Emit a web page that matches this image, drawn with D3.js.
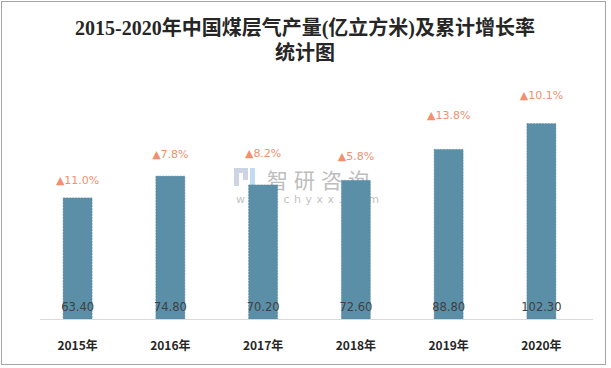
<!DOCTYPE html>
<html><head><meta charset="utf-8">
<script src="https://cdn.jsdelivr.net/npm/d3@7"></script>
<style>body{margin:0;background:#fff}</style>
</head><body>
<svg id="c" width="611" height="368"></svg>
<script>
const categories = ["2015年","2016年","2017年","2018年","2019年","2020年"];
const production = [63.40, 74.80, 70.20, 72.60, 88.80, 102.30];
const growth = ["11.0%","7.8%","8.2%","5.8%","13.8%","10.1%"];
const labelLevel = [72.3, 85.9, 86.9, 85.3, 106.3, 116.8];

const svg = d3.select("#c");
svg.append("rect").attr("x",1.5).attr("y",1.5).attr("width",604).attr("height",363)
  .attr("fill","#fff").attr("stroke","#a6a6a6");

const x = d3.scaleBand().domain(categories).range([26, 593]).paddingInner(0.6875).paddingOuter(0.4);
const y = d3.scaleLinear().domain([0, 120]).range([319, 89.8]);

// title
const t = svg.append("g").attr("font-family","'Liberation Serif','Noto Sans CJK SC',serif")
  .attr("font-size",20).attr("fill","#262626").attr("text-anchor","middle").attr("font-weight","bold");
t.append("text").attr("x",305).attr("y",35).text("2015-2020年中国煤层气产量(亿立方米)及累计增长率");
t.append("text").attr("x",305).attr("y",60).text("统计图");

// watermark
const wm = svg.append("g").attr("opacity",0.85);
wm.append("rect").attr("x",234).attr("y",168).attr("width",14).attr("height",5).attr("fill","#c5cde0");
wm.append("rect").attr("x",234).attr("y",168).attr("width",5).attr("height",18).attr("fill","#c5cde0");
wm.append("rect").attr("x",243).attr("y",168).attr("width",5).attr("height",12).attr("fill","#c5cde0");
wm.append("rect").attr("x",250).attr("y",168).attr("width",5).attr("height",18).attr("fill","#b8d6ec");
wm.append("text").attr("x",267).attr("y",188).attr("font-family","'Noto Sans CJK SC',sans-serif")
  .attr("font-size",21).attr("fill","#b3b3b3").attr("letter-spacing",6).text("智研咨询");
wm.append("text").attr("x",236).attr("y",203).attr("font-family","'DejaVu Sans',sans-serif")
  .attr("font-size",11).attr("fill","#b8b8b8").attr("letter-spacing",4.5).text("www.chyxx.com");

// bars
svg.append("g").selectAll("rect").data(production).join("rect")
  .attr("x",(d,i)=>x(categories[i])).attr("width",x.bandwidth())
  .attr("y",d=>y(d)).attr("height",d=>y(0)-y(d))
  .attr("fill","#5b8fa8").attr("stroke","#4d7f98").attr("stroke-width",0.5).attr("stroke-dasharray","2,1");

// axis
const ax = svg.append("g").attr("transform","translate(0,319)").call(d3.axisBottom(x).tickSize(0).tickPadding(22));
ax.select(".domain").attr("stroke","#d9d9d9").attr("d","M40,0.5H593");
ax.selectAll("text").attr("font-family","'Noto Sans CJK SC',sans-serif").attr("font-size",12)
  .attr("font-weight","bold").attr("fill","#262626");

// value labels
svg.append("g").selectAll("text").data(production).join("text")
  .attr("x",(d,i)=>x(categories[i])+x.bandwidth()/2).attr("y",311)
  .attr("text-anchor","middle").attr("font-family","'DejaVu Sans',sans-serif").attr("font-size",11.5)
  .attr("fill","#404040").text(d=>d.toFixed(2));

// growth labels
const g = svg.append("g").selectAll("g").data(growth).join("g")
  .attr("transform",(d,i)=>`translate(${x(categories[i])+x.bandwidth()/2},${y(labelLevel[i])})`);
g.append("text").attr("text-anchor","middle").attr("dy","0.32em")
  .attr("font-family","'DejaVu Sans',sans-serif").attr("font-size",11).attr("fill","#f0906f")
  .text(d=>"▲"+d);
</script>
</body></html>
